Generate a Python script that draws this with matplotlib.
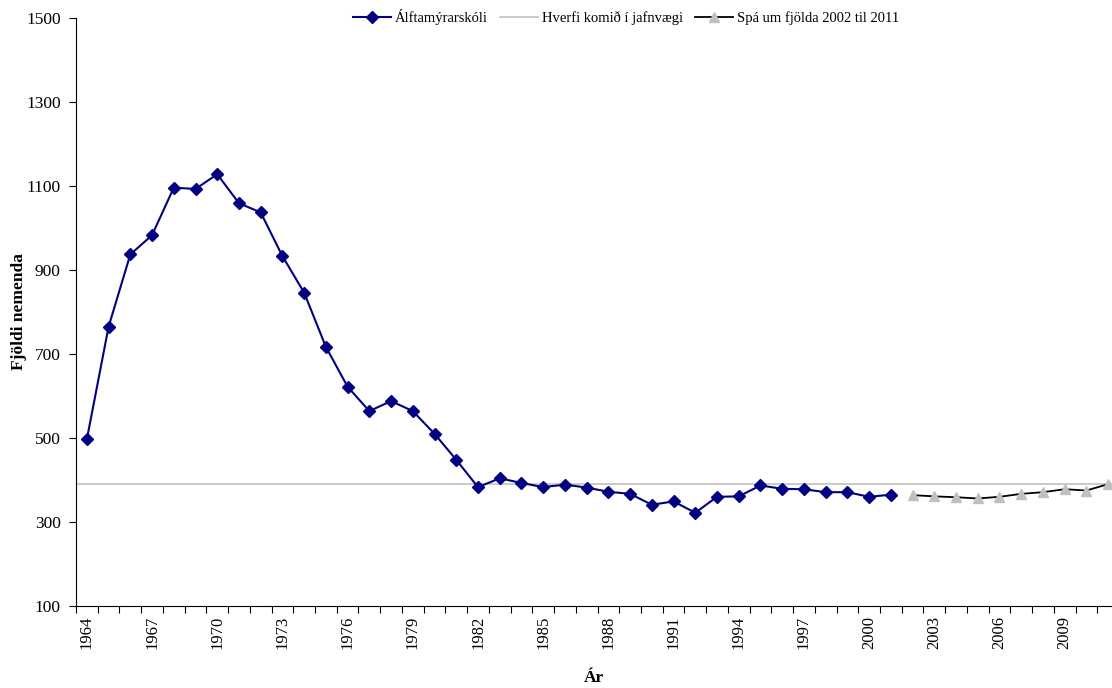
import numpy as np
import matplotlib
matplotlib.use("Agg")
import matplotlib.pyplot as plt

# Árafjöldi nemenda í Álftamýrarskóla, lesið af mynd
years = list(range(1964, 2012))

skoli_years = list(range(1964, 2002))
skoli_values = [497, 765, 937, 983, 1096, 1093, 1128, 1059, 1037, 933,
                846, 717, 622, 564, 588, 564, 510, 448, 383, 404,
                393, 383, 389, 382, 372, 367, 341, 349, 322, 360,
                361, 387, 379, 378, 371, 371, 360, 365]

spa_years = list(range(2002, 2012))
spa_values = [364, 361, 359, 356, 360, 367, 371, 378, 375, 390]

jafnvaegi = 390

plt.rcParams['font.family'] = ['Liberation Serif', 'DejaVu Serif']

fig = plt.figure(figsize=(11.12, 6.88), dpi=100)
ax = fig.add_axes([76 / 1112, 82 / 688, 1043 / 1112, 588 / 688])

idx = {y: i for i, y in enumerate(years)}
xs = [idx[y] for y in skoli_years]
xf = [idx[y] for y in spa_years]

ax.plot(xs, skoli_values, color='#000080', lw=1.5, marker='D', ms=6,
        label='Álftamýrarskóli', zorder=3)
ax.plot([-0.5, len(years) - 0.5], [jafnvaegi, jafnvaegi], color='#C0C0C0',
        lw=1.2, label='Hverfi komið í jafnvægi', zorder=2)
ax.plot(xf, spa_values, color='black', lw=1.3, marker='^', ms=7,
        mfc='#C0C0C0', mec='#C0C0C0', label='Spá um fjölda 2002 til 2011',
        zorder=3)

ax.set_xlim(-0.5, len(years) - 0.5)
ax.set_ylim(100, 1500)
ax.set_yticks(np.arange(100, 1501, 200))
ax.tick_params(axis='y', direction='out', length=5, pad=6, labelsize=12.5)

ax.set_xticks(np.arange(-0.5, len(years), 1.0))
ax.set_xticklabels([])
ax.set_xticks([idx[y] for y in years[::3]], minor=True)
ax.set_xticklabels([str(y) for y in years[::3]], minor=True, rotation=90,
                   fontsize=12)
ax.tick_params(axis='x', which='major', direction='out', length=5)
ax.tick_params(axis='x', which='minor', length=0, pad=7)

for s in ['top', 'right']:
    ax.spines[s].set_visible(False)

ax.set_ylabel('Fjöldi nemenda', fontsize=12.5, fontweight='bold')
ax.yaxis.set_label_coords(-49 / 1043, 0.5)
fig.text(594 / 1112, 1 - 678 / 688, 'Ár', fontsize=12.5, fontweight='bold',
         ha='center', va='center')

fig.legend(loc='center', bbox_to_anchor=(626 / 1112, 1 - 17 / 688), ncol=3,
           frameon=False, fontsize=10.5, handlelength=2.6, handletextpad=0.3,
           columnspacing=0.8, borderaxespad=0)

fig.savefig('out.png', dpi=100)
